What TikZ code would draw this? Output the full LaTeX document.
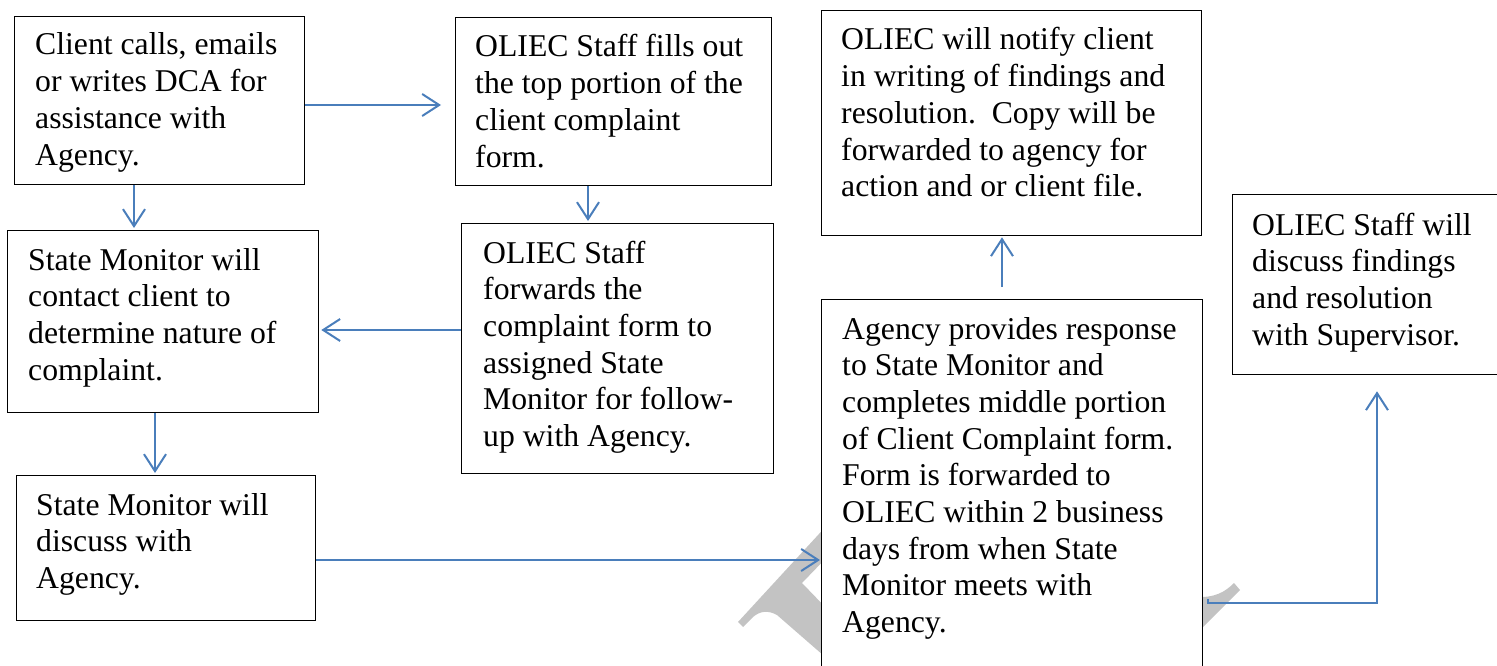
\documentclass[tikz,border=0pt]{standalone}
\usepackage{fontspec}
\newfontfamily\tnrfont{LiberationSerif}[Extension=.ttf, UprightFont=*-Regular]
\usetikzlibrary{arrows.meta,calc}
\definecolor{arrowblue}{HTML}{4A7EBB}
\definecolor{wmgrey}{HTML}{C3C3C3}
\begin{document}
\begin{tikzpicture}[x=1pt,y=-1pt,
  box/.style={draw=black, line width=1.3pt, fill=white, inner sep=0pt, anchor=north west},
  txt/.style={inner sep=0pt, anchor=base west, font=\tnrfont\fontsize{31.7}{36.7}\selectfont},
  conn/.style={draw=arrowblue, line width=2pt, -{Straight Barb[length=17pt,width=22pt]}}]
\useasboundingbox (0,0) rectangle (1497,666);
\clip (0,0) rectangle (1497,666);
% watermark fragments
\fill[wmgrey] (738,622) -- (830,522) -- (830,554) -- (802,583) -- (830,612) -- (831,662)
  -- (777,615) .. controls (768,610) and (760,611) .. (753,617) -- (743,627) -- cycle;
\fill[wmgrey] (1195,597) .. controls (1215,598) and (1225,592) .. (1234,583)
  -- (1240,590) -- (1195,635) -- cycle;
% boxes
\node[box, minimum width=290, minimum height=168] (b1) at (14,16) {};
\node[box, minimum width=316, minimum height=168] (b2) at (455,17) {};
\node[box, minimum width=380, minimum height=225] (b3) at (821,10) {};
\node[box, minimum width=311, minimum height=182] (b4) at (7,230) {};
\node[box, minimum width=312, minimum height=250] (b5) at (461,223) {};
\node[box, minimum width=299, minimum height=145] (b6) at (16,475) {};
\node[box, minimum width=381, minimum height=420] (b7) at (821,299) {};
\node[box, minimum width=300, minimum height=180] (b8) at (1232,194) {};
% texts
\node[txt] (t1) at (35,55) {\parbox[t]{400pt}{Client calls, emails\\or writes DCA for\\assistance with\\Agency.}};
\node[txt] (t2) at (475,57) {\parbox[t]{400pt}{OLIEC Staff fills out\\the top portion of the\\client complaint\\form.}};
\node[txt] (t3) at (841,50) {\parbox[t]{400pt}{OLIEC will notify client\\in writing of findings and\\resolution.\ \ Copy will be\\forwarded to agency for\\action and or client file.}};
\node[txt] (t4) at (28,270) {\parbox[t]{400pt}{State Monitor will\\contact client to\\determine nature of\\complaint.}};
\node[txt] (t5) at (483,263) {\parbox[t]{400pt}{OLIEC Staff\\forwards the\\complaint form to\\assigned State\\Monitor for follow-\\up with Agency.}};
\node[txt] (t6) at (36,515) {\parbox[t]{400pt}{State Monitor will\\discuss with\\Agency.}};
\node[txt] (t7) at (842,339) {\parbox[t]{400pt}{Agency provides response\\to State Monitor and\\completes middle portion\\of Client Complaint form.\\Form is forwarded to\\OLIEC within 2 business\\days from when State\\Monitor meets with\\Agency.}};
\node[txt] (t8) at (1252,235) {\parbox[t]{400pt}{OLIEC Staff will\\discuss findings\\and resolution\\with Supervisor.}};
% connectors
\draw[conn, shorten >=14pt] (b1.east |- 0,105) -- (b2.west |- 0,105);
\draw[conn, shorten >=2pt] (b1.south -| 134,0) -- (b4.north -| 134,0);
\draw[conn, shorten >=2pt] (b2.south -| 588,0) -- (b5.north -| 588,0);
\draw[conn, shorten >=2pt] (b5.west |- 0,330) -- (b4.east |- 0,330);
\draw[conn, shorten >=2pt] (b4.south -| 155,0) -- (b6.north -| 155,0);
\draw[conn, shorten >=1pt] (b6.east |- 0,560) -- (b7.west |- 0,560);
\draw[conn, shorten <=12pt, shorten >=1pt] (b7.north -| 1002,0) -- (b3.south -| 1002,0);
\draw[conn, shorten >=16pt] ($(b7.east |- 0,599)+(5,0)$) -- ++(0,4) -| (b8.south -| 1377,0);
\end{tikzpicture}
\end{document}
